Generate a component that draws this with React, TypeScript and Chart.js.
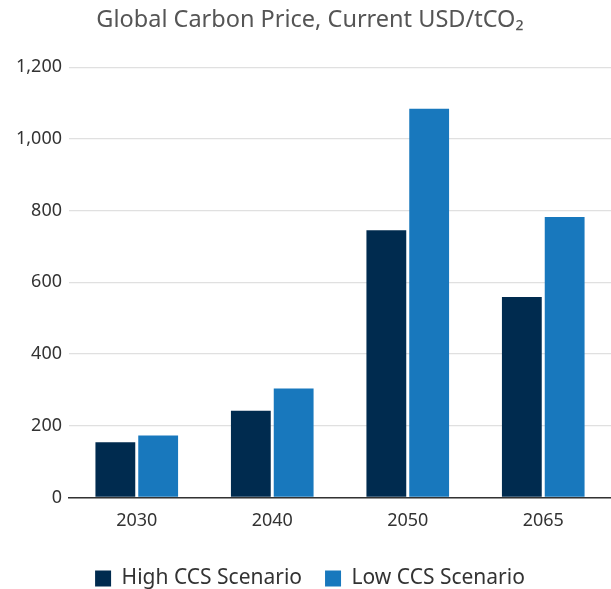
import React, { useEffect, useRef } from "react";
import { Chart, registerables } from "chart.js";

Chart.register(...registerables);

const categories = ["2030", "2040", "2050", "2065"];
const highCCS = [154, 242, 745, 559];
const lowCCS = [173, 304, 1084, 782];
const seriesNames = ["High CCS Scenario", "Low CCS Scenario"];
const titleText = "Global Carbon Price, Current USD/tCO\u2082";

export default function App() {
  const ref = useRef<HTMLCanvasElement | null>(null);
  useEffect(() => {
    document.body.style.margin = "0";
    const ctx = ref.current!;
    const font = "'Noto Sans', 'Open Sans', sans-serif";
    const chart = new Chart(ctx, {
      type: "bar",
      data: {
        labels: categories,
        datasets: [
          {
            label: seriesNames[0],
            data: highCCS,
            backgroundColor: "#002b4f",
            categoryPercentage: 0.632,
            barPercentage: 0.93,
          },
          {
            label: seriesNames[1],
            data: lowCCS,
            backgroundColor: "#1878bd",
            categoryPercentage: 0.632,
            barPercentage: 0.93,
          },
        ],
      },
      options: {
        animation: false,
        responsive: false,
        maintainAspectRatio: false,
        layout: { padding: { left: 9, right: 0, top: 0, bottom: -10 } },
        plugins: {
          title: {
            display: true,
            text: titleText,
            color: "#555555",
            font: { family: font, size: 23.5, weight: "normal" },
            padding: { top: 6, bottom: 33 },
          },
          legend: {
            position: "bottom",
            labels: {
              color: "#333333",
              boxWidth: 16,
              boxHeight: 16,
              padding: 23,
              font: { family: font, size: 21 },
            },
          },
          tooltip: { enabled: false },
        },
        scales: {
          x: {
            grid: { display: false, drawTicks: false },
            border: { color: "#333333", width: 1.5 },
            ticks: { color: "#333333", font: { family: font, size: 18 }, padding: 13 },
          },
          y: {
            min: 0,
            max: 1200,
            grid: { color: "#e0e0e0", drawTicks: false, lineWidth: 1.2 },
            border: { display: false },
            ticks: {
              stepSize: 200,
              color: "#333333",
              padding: 7,
              font: { family: font, size: 18 },
              callback: (v: any) => Number(v).toLocaleString("en-US"),
            },
          },
        },
      },
    });
    return () => chart.destroy();
  }, []);
  return <canvas ref={ref} width={611} height={589} style={{ display: "block" }} />;
}
